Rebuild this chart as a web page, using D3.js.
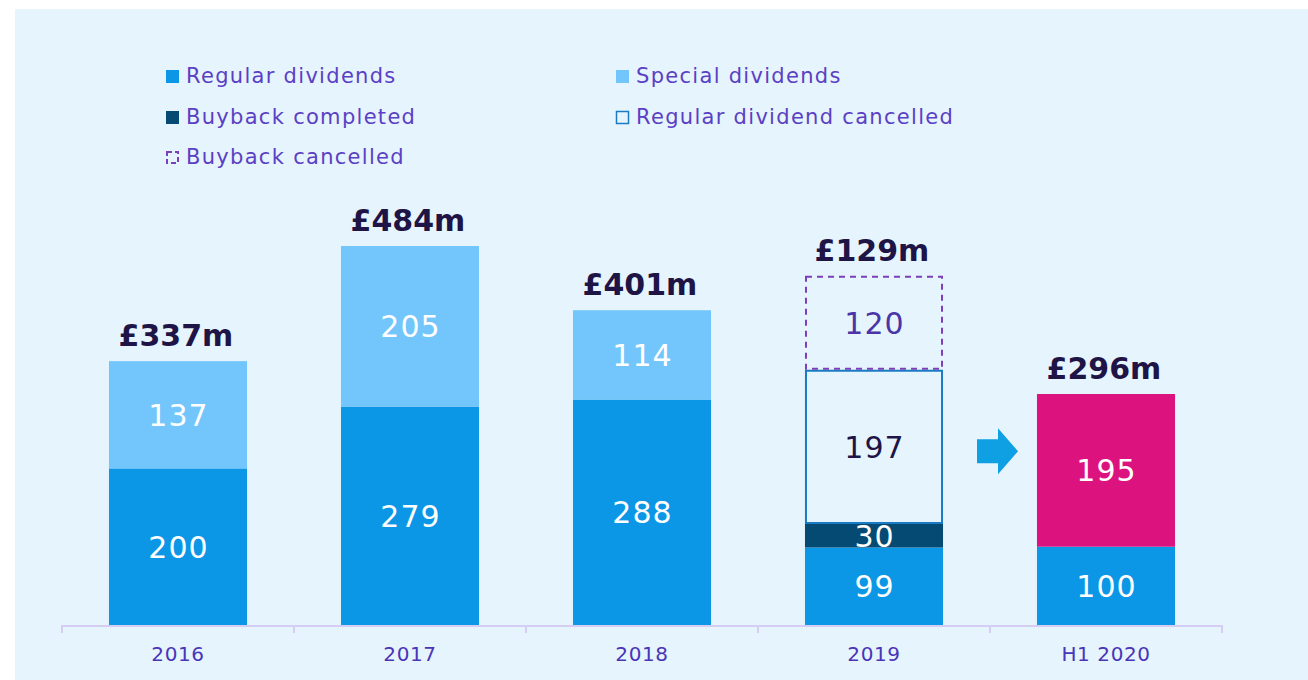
<!DOCTYPE html>
<html><head><meta charset="utf-8">
<script src="https://cdn.jsdelivr.net/npm/d3@7"></script>
<style>
html,body{margin:0;padding:0;background:#fff;}
svg{display:block;font-family:"DejaVu Sans",sans-serif;}
</style></head>
<body>
<svg id="c" width="1308" height="680"></svg>
<script>
const categories = ["2016","2017","2018","2019","H1 2020"];
const regularDividends = [200,279,288,99,100];
const specialDividends = [137,205,114,0,0];
const buybackCompleted = [0,0,0,30,0];
const regularCancelled = [0,0,0,197,0];
const buybackCancelled = [0,0,0,120,0];
const interimDividend = [0,0,0,0,195];
const totalLabels = ["£337m","£484m","£401m","£129m","£296m"];
const legendLabels = ["Regular dividends","Special dividends","Buyback completed","Regular dividend cancelled","Buyback cancelled"];

const bg = "#e6f4fd";
const svg = d3.select("#c");
svg.append("rect").attr("x",15).attr("y",9).attr("width",1293).attr("height",671).attr("fill",bg);

const x = d3.scaleBand().domain(categories).range([62,1222]).paddingInner(0.405).paddingOuter(0.2025);
const y = d3.scaleLinear().domain([0,100]).range([625,546.7]);

const series = [
  {key:"regular", vals:regularDividends, fill:"#0b96e6", stroke:"none", label:"#ffffff"},
  {key:"buyback", vals:buybackCompleted, fill:"#054a72", stroke:"none", label:"#ffffff"},
  {key:"special", vals:specialDividends, fill:"#72c6fb", stroke:"none", label:"#ffffff"},
  {key:"interim", vals:interimDividend, fill:"#dc127f", stroke:"none", label:"#ffffff"},
  {key:"regCancelled", vals:regularCancelled, fill:bg, stroke:"#1a7bc4", label:"#1e1446"},
  {key:"bbCancelled", vals:buybackCancelled, fill:bg, stroke:"#7b3fb8", dash:"6,5", label:"#4a35a8"}
];

const g = svg.append("g");
categories.forEach((c,i)=>{
  let base = 0;
  const cx = x(c)+x.bandwidth()/2;
  series.forEach(s=>{
    const v = s.vals[i];
    if(!v) return;
    const y0 = y(base), y1 = y(base+v);
    const r = g.append("rect").attr("x",x(c)).attr("y",y1).attr("width",x.bandwidth()).attr("height",y0-y1)
      .attr("fill",s.fill);
    if(s.stroke!=="none"){
      r.attr("x",x(c)+1).attr("width",x.bandwidth()-2).attr("y",y1+1).attr("height",y0-y1-2)
       .attr("stroke",s.stroke).attr("stroke-width",2);
      if(s.dash) r.attr("stroke-dasharray",s.dash);
    }
    g.append("text").attr("x",cx+0.5).attr("y",(y0+y1)/2)
      .attr("dy","0.36em").attr("text-anchor","middle").attr("font-size",30).attr("letter-spacing",1)
      .attr("fill",s.label).text(v);
    base += v;
  });
  g.append("text").attr("x",cx-2).attr("y",y(base)-15)
    .attr("text-anchor","middle").attr("font-size",30).attr("font-weight",700).attr("fill","#1e1446")
    .text(totalLabels[i]);
});

// axis
const axis = d3.axisBottom(x).tickSize(0).tickPadding(22);
const ag = svg.append("g").attr("transform","translate(0,625)").call(axis);
ag.select(".domain").remove();
ag.selectAll("text").attr("font-size",20).attr("fill","#4a35b8").attr("font-family","'DejaVu Sans',sans-serif")
  .attr("letter-spacing",0.6).attr("dy","0.71em");
svg.append("line").attr("x1",62).attr("x2",1222).attr("y1",626).attr("y2",626).attr("stroke","#d6cdf5").attr("stroke-width",2);
const step = x.step();
const edges = d3.range(categories.length+1).map(k=>x(categories[0]) - x.paddingOuter()*step + k*step);
svg.selectAll("line.tk").data(edges).enter().append("line").attr("class","tk")
  .attr("x1",d=>d).attr("x2",d=>d).attr("y1",625).attr("y2",633).attr("stroke","#d6cdf5").attr("stroke-width",2);

// arrow between 2019 and H1 2020
const ax = x("2019")+x.bandwidth()+ (x("H1 2020")-x("2019")-x.bandwidth())/2 + 8;
const ay = y(222);
svg.append("path").attr("fill","#0fa0e4")
  .attr("d",`M${ax-21},${ay-12} L${ax},${ay-12} L${ax},${ay-23} L${ax+20},${ay} L${ax},${ay+23} L${ax},${ay+12} L${ax-21},${ay+12} Z`);

// legend
const legPos = [[166,76],[616,76],[166,117],[616,117],[166,157]];
const lg = svg.append("g");
legendLabels.forEach((t,i)=>{
  const [lx,ly] = legPos[i];
  if(i<3){
    const col = [ "#0b96e6","#72c6fb","#054a72"][i];
    lg.append("rect").attr("x",lx).attr("y",ly-6).attr("width",13).attr("height",13).attr("fill",col);
  } else if(i===3){
    lg.append("rect").attr("x",lx+0.5).attr("y",ly-5.5).attr("width",12).attr("height",12).attr("fill",bg).attr("stroke","#1a7bc4").attr("stroke-width",1.5);
  } else {
    lg.append("rect").attr("x",lx+1).attr("y",ly-5).attr("width",11).attr("height",11).attr("fill","none").attr("stroke","#7b3fb8").attr("stroke-width",2).attr("stroke-dasharray","5,3");
  }
  lg.append("text").attr("x",lx+20).attr("y",ly).attr("dy","0.35em").attr("font-size",21).attr("letter-spacing",1.3)
    .attr("fill","#5b3fc4").text(t);
});
</script>
</body></html>
